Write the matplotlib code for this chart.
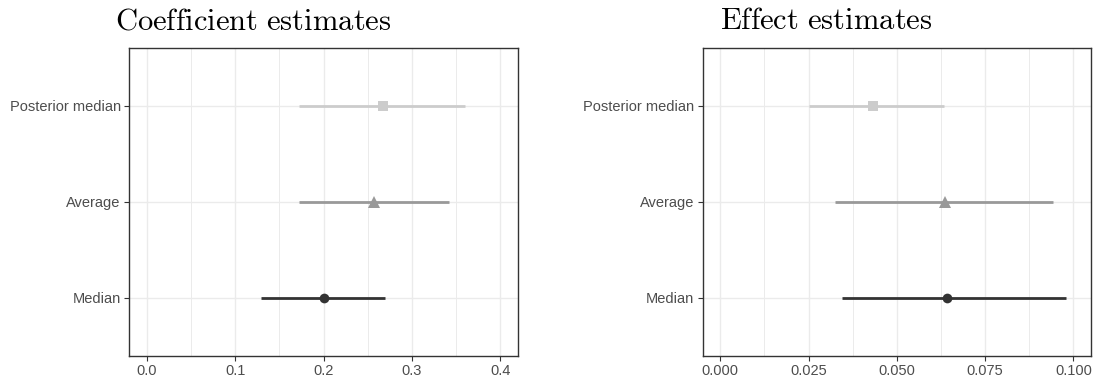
import matplotlib
matplotlib.use("Agg")
import matplotlib.pyplot as plt
from matplotlib.ticker import MultipleLocator

plt.rcParams["mathtext.fontset"] = "cm"

# Estimators, bottom to top
estimators = ["Median", "Average", "Posterior median"]
colors = ["#333333", "#999999", "#CCCCCC"]
markers = ["o", "^", "s"]
marker_sizes = [7, 8, 7]

# Coefficient estimates: point, lower, upper
coef_point = [0.200, 0.2575, 0.267]
coef_lower = [0.129, 0.1725, 0.1725]
coef_upper = [0.270, 0.3425, 0.360]

# Effect estimates: point, lower, upper
eff_point = [0.0643, 0.0635, 0.0432]
eff_lower = [0.0345, 0.0325, 0.0252]
eff_upper = [0.0979, 0.0942, 0.0634]

coef_ticks = [0.0, 0.1, 0.2, 0.3, 0.4]
coef_tick_labels = ["0.0", "0.1", "0.2", "0.3", "0.4"]
eff_ticks = [0.0, 0.025, 0.05, 0.075, 0.1]
eff_tick_labels = ["0.000", "0.025", "0.050", "0.075", "0.100"]

fig = plt.figure(figsize=(11, 3.8), dpi=100)
W, H = 1100, 380

def px_axes(left, right, top, bottom):
    return fig.add_axes([left / W, 1 - bottom / H, (right - left) / W, (bottom - top) / H])

ax1 = px_axes(129, 518, 48.3, 355.6)
ax2 = px_axes(702.7, 1091, 48.3, 355.6)


def draw_panel(ax, point, lower, upper, ticks, tick_labels, minor, xlim):
    ys = list(range(1, len(estimators) + 1))
    for y, p, lo, hi, c, m, ms in zip(ys, point, lower, upper, colors, markers, marker_sizes):
        ax.plot([lo, hi], [y, y], color=c, lw=2.0, solid_capstyle="butt", zorder=3)
        ax.plot([p], [y], marker=m, color=c, markersize=ms, markeredgewidth=0, zorder=4)
    ax.set_xlim(*xlim)
    ax.set_ylim(0.4, len(estimators) + 0.6)
    ax.set_xticks(ticks)
    ax.set_xticklabels(tick_labels)
    ax.xaxis.set_minor_locator(MultipleLocator(minor))
    ax.set_yticks(ys)
    ax.set_yticklabels(estimators)
    ax.grid(which="major", color="#EBEBEB", lw=1.0, zorder=0)
    ax.grid(which="minor", axis="x", color="#EBEBEB", lw=0.7, zorder=0)
    ax.yaxis.grid(True, which="major")
    ax.set_axisbelow(True)
    for s in ax.spines.values():
        s.set_color("#333333")
        s.set_linewidth(1.0)
    ax.tick_params(axis="both", which="major", length=3.5, width=0.8, color="#333333",
                   labelcolor="#4D4D4D", labelsize=10.5, pad=2.5)
    ax.tick_params(axis="x", which="minor", length=0)
    for lab in ax.get_xticklabels() + ax.get_yticklabels():
        lab.set_family(["Liberation Sans", "DejaVu Sans"])


draw_panel(ax1, coef_point, coef_lower, coef_upper, coef_ticks, coef_tick_labels, 0.05, (-0.02, 0.42))
draw_panel(ax2, eff_point, eff_lower, eff_upper, eff_ticks, eff_tick_labels, 0.0125, (-0.005, 0.105))

fig.text(115 / W, 1 - 29 / H, r"$\mathrm{Coefficient\ estimates}$", fontsize=22,
         ha="left", va="baseline", color="black")
fig.text(720 / W, 1 - 29 / H, r"$\mathrm{Effect\ estimates}$", fontsize=22,
         ha="left", va="baseline", color="black")

fig.savefig("out.png", dpi=100)
